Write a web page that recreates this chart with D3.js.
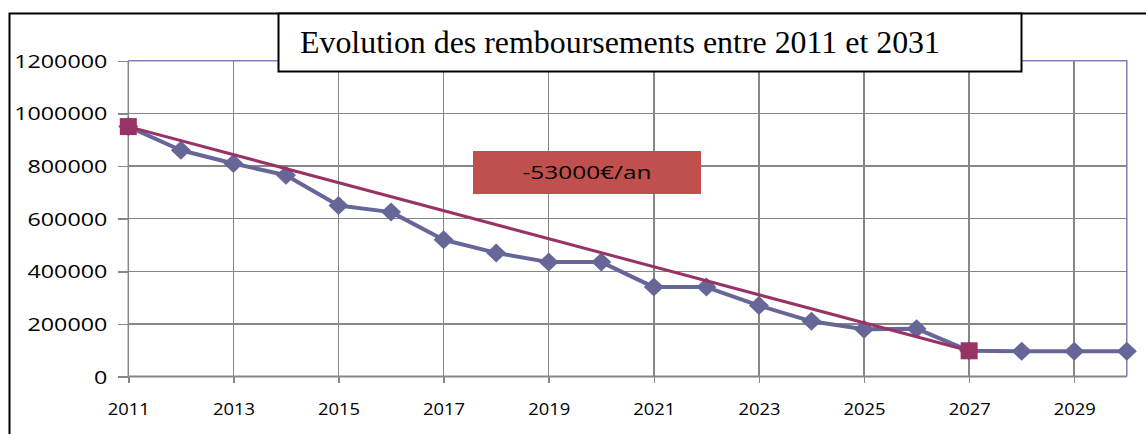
<!DOCTYPE html>
<meta charset="utf-8">
<style>
body { margin: 0; background: #fff; }
.grid line { stroke: #878787; stroke-width: 1.5; shape-rendering: crispEdges; }
.axis path { display: none; }
.axis line { stroke: #878787; stroke-width: 1.5; shape-rendering: crispEdges; }
.axis text { font-family: "Open Sans", sans-serif; fill: #000; }
</style>
<body>
<script src="https://cdn.jsdelivr.net/npm/d3@7"></script>
<script>
// donnees
var years = [2011, 2012, 2013, 2014, 2015, 2016, 2017, 2018, 2019, 2020,
             2021, 2022, 2023, 2024, 2025, 2026, 2027, 2028, 2029, 2030];
var remboursements = [950000, 860000, 810000, 765000, 650000, 625000, 520000, 470000, 435000, 435000,
                      340000, 340000, 270000, 210000, 180000, 182000, 98000, 96000, 96000, 96000];
var trendYears = [2011, 2027];
var trendValues = [950000, 98000];
var xTicks = [2011, 2013, 2015, 2017, 2019, 2021, 2023, 2025, 2027, 2029];
var yTicks = [0, 200000, 400000, 600000, 800000, 1000000, 1200000];
var titre = "Evolution des remboursements entre 2011 et 2031";
var annotation = "-53000\u20ac/an";

var W = 1146, H = 434;
var svg = d3.select("body").append("svg")
    .attr("width", W)
    .attr("height", H);

var x = d3.scaleLinear().domain([2011, 2030]).range([128.3, 1126.8]);
var y = d3.scaleLinear().domain([0, 1200000]).range([376.6, 60.8]);

// cadre exterieur
svg.append("path")
    .attr("d", "M9.5," + H + "V13.5H" + W)
    .attr("fill", "none")
    .attr("stroke", "#000")
    .attr("stroke-width", 2);

// grille
svg.append("g")
    .attr("class", "grid")
    .selectAll("line.h")
    .data(yTicks.filter(function(d) { return d > 0 && d < 1200000; }))
  .enter().append("line")
    .attr("x1", x(2011)).attr("x2", x(2030))
    .attr("y1", y).attr("y2", y);

svg.append("g")
    .attr("class", "grid")
    .selectAll("line.v")
    .data(xTicks.filter(function(d) { return d > 2011; }))
  .enter().append("line")
    .attr("x1", x).attr("x2", x)
    .attr("y1", y(0)).attr("y2", y(1200000));

// bord haut + droite de la zone de tracé
svg.append("path")
    .attr("d", "M" + x(2011) + "," + y(1200000) + "H" + x(2030) + "V" + y(0))
    .attr("fill", "none")
    .attr("stroke", "#7f7fbb")
    .attr("stroke-width", 1.5);

// axes
var yAxis = svg.append("g")
    .attr("class", "axis")
    .attr("transform", "translate(" + x(2011) + ",0)")
    .call(d3.axisLeft(y).tickValues(yTicks).tickFormat(d3.format("d"))
      .tickSize(10).tickPadding(11).tickSizeOuter(0));
yAxis.selectAll("text")
    .style("font-size", "18px")
    .attr("dy", "0.36em")
    .attr("textLength", function(d) { return String(d).length * 13.3; })
    .attr("lengthAdjust", "spacingAndGlyphs");

var xAxis = svg.append("g")
    .attr("class", "axis")
    .attr("transform", "translate(0," + y(0) + ")")
    .call(d3.axisBottom(x).tickValues(xTicks).tickSize(6).tickPadding(21)
      .tickFormat(d3.format("d")).tickSizeOuter(0));
xAxis.selectAll("text")
    .style("font-size", "16px")
    .attr("dy", "0.71em")
    .attr("textLength", 42)
    .attr("lengthAdjust", "spacingAndGlyphs");

svg.append("line")
    .attr("x1", x(2011)).attr("x2", x(2011))
    .attr("y1", y(0)).attr("y2", y(1200000))
    .attr("stroke", "#878787").attr("stroke-width", 1.5);
svg.append("line")
    .attr("x1", x(2011)).attr("x2", x(2030))
    .attr("y1", y(0)).attr("y2", y(0))
    .attr("stroke", "#878787").attr("stroke-width", 2);

// serie remboursements
var line = d3.line()
    .x(function(d, i) { return x(years[i]); })
    .y(function(d) { return y(d); });

svg.append("path")
    .datum(remboursements)
    .attr("d", line)
    .attr("fill", "none")
    .attr("stroke", "#666699")
    .attr("stroke-width", 4)
    .attr("stroke-linejoin", "round");

svg.selectAll(".diam")
    .data(remboursements)
  .enter().append("path")
    .attr("class", "diam")
    .attr("d", "M0,-9.5L10,0L0,9.5L-10,0Z")
    .attr("fill", "#666699")
    .attr("transform", function(d, i) { return "translate(" + x(years[i]) + "," + y(d) + ")"; });

// tendance
var tline = d3.line()
    .x(function(d, i) { return x(trendYears[i]); })
    .y(function(d) { return y(d); });

svg.append("path")
    .datum(trendValues)
    .attr("d", tline)
    .attr("fill", "none")
    .attr("stroke", "#993366")
    .attr("stroke-width", 3);

svg.selectAll(".sq")
    .data(trendValues)
  .enter().append("rect")
    .attr("class", "sq")
    .attr("x", function(d, i) { return x(trendYears[i]) - 8.5; })
    .attr("y", function(d) { return y(d) - 8.5; })
    .attr("width", 17)
    .attr("height", 17)
    .attr("fill", "#993366");

// encadré -53000€/an
svg.append("rect")
    .attr("x", 473).attr("y", 151)
    .attr("width", 228).attr("height", 43)
    .attr("fill", "#c0504d");
svg.append("text")
    .attr("x", 587).attr("y", 178.5)
    .attr("text-anchor", "middle")
    .attr("textLength", 129)
    .attr("lengthAdjust", "spacingAndGlyphs")
    .style("font-family", "'Open Sans', sans-serif")
    .style("font-size", "18px")
    .text(annotation);

// titre
svg.append("rect")
    .attr("x", 278.5).attr("y", 13.5)
    .attr("width", 743).attr("height", 58)
    .attr("fill", "#fff")
    .attr("stroke", "#000")
    .attr("stroke-width", 2);
svg.append("text")
    .attr("x", 300).attr("y", 53)
    .attr("textLength", 640)
    .attr("lengthAdjust", "spacingAndGlyphs")
    .style("font-family", "'Liberation Serif', 'Times New Roman', serif")
    .style("font-size", "31px")
    .text(titre);
</script>
</body>
</html>
